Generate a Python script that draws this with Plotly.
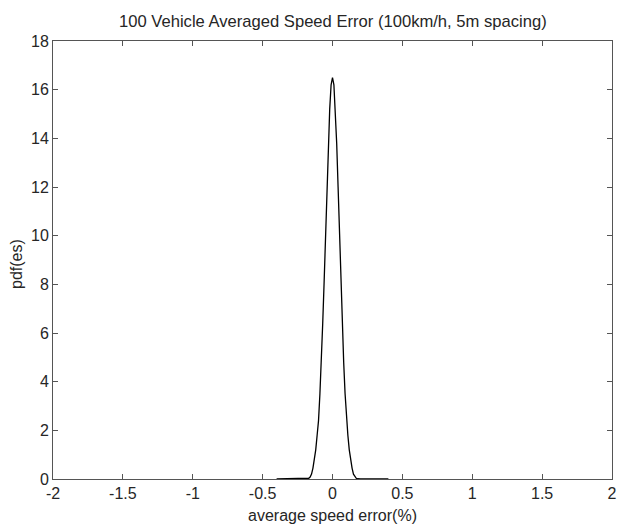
import plotly.graph_objects as go

# Data (pdf of average speed error, %)
err_x = [-0.40, -0.30, -0.20, -0.18, -0.17, -0.16, -0.15, -0.14, -0.13, -0.12, -0.11,
         -0.10, -0.09, -0.08, -0.07, -0.06, -0.05, -0.04, -0.03, -0.02, -0.01,
         0.00, 0.01, 0.02, 0.03, 0.04, 0.05, 0.06, 0.07, 0.08, 0.09, 0.10,
         0.11, 0.12, 0.13, 0.14, 0.15, 0.16, 0.17, 0.18, 0.20, 0.30, 0.40]
pdf_y = [0.0, 0.0, 0.0, 0.01, 0.03, 0.08, 0.20, 0.45, 0.75, 1.20, 1.80,
         2.40, 3.50, 4.80, 6.40, 8.10, 10.1, 12.0, 13.8, 15.2, 16.2,
         16.5, 16.2, 15.2, 13.8, 12.0, 10.1, 8.10, 6.40, 4.80, 3.50, 2.40,
         1.80, 1.20, 0.75, 0.45, 0.20, 0.08, 0.03, 0.01, 0.0, 0.0, 0.0]

x_ticks = [-2, -1.5, -1, -0.5, 0, 0.5, 1, 1.5, 2]
x_tick_text = ["-2", "-1.5", "-1", "-0.5", "0", "0.5", "1", "1.5", "2"]
y_ticks = [0, 2, 4, 6, 8, 10, 12, 14, 16, 18]

title_text = "100 Vehicle Averaged Speed Error (100km/h, 5m spacing)"
x_title = "average speed error(%)"
y_title = "pdf(es)"

FONT = "Liberation Sans, Arial, sans-serif"
TXT = "#262626"
AX = "#555555"
W, H = 617, 525
# plot box on screen: x 53..612, y 41..479
L, R, T, B = 53, W - 612, 41, H - 479
PW, PH = W - L - R, H - T - B

fig = go.Figure()
fig.add_trace(go.Scatter(x=err_x, y=pdf_y, mode="lines",
                         line=dict(color="black", width=1.3), showlegend=False))

fig.update_layout(
    width=W, height=H,
    margin=dict(l=L, r=R, t=T, b=B, autoexpand=False),
    paper_bgcolor="white", plot_bgcolor="white",
    font=dict(family=FONT, size=16, color=TXT),
)

fig.add_annotation(text=title_text, xref="paper", yref="paper",
                   x=0.5, y=1 + (41 - 21) / PH, xanchor="center", yanchor="middle",
                   showarrow=False, font=dict(family=FONT, size=16.6, color=TXT))
fig.add_annotation(text=x_title, xref="paper", yref="paper",
                   x=0.5, y=-(515 - 479) / PH, xanchor="center", yanchor="middle",
                   showarrow=False, font=dict(family=FONT, size=16, color=TXT))
fig.add_annotation(text=y_title, xref="paper", yref="paper", textangle=-90,
                   x=-(53 - 16) / PW, y=0.5 - (264 - 260) / PH, xanchor="center", yanchor="middle",
                   showarrow=False, font=dict(family=FONT, size=16, color=TXT))

fig.update_xaxes(
    range=[-2, 2], tickmode="array", tickvals=x_ticks, ticktext=x_tick_text,
    ticks="inside", ticklen=5, tickcolor=AX, tickwidth=1,
    showline=True, linecolor=AX, linewidth=1, mirror="ticks",
    showgrid=False, zeroline=False, automargin=False,
    tickfont=dict(family=FONT, size=16, color=TXT),
)
fig.update_yaxes(
    range=[0, 18], tickmode="array", tickvals=y_ticks,
    ticks="inside", ticklen=5, tickcolor=AX, tickwidth=1,
    showline=True, linecolor=AX, linewidth=1, mirror="ticks",
    showgrid=False, zeroline=False, automargin=False,
    tickfont=dict(family=FONT, size=16, color=TXT),
)

fig.write_html("out.html", config={"displayModeBar": False},
               post_script="document.body.style.margin='0';document.body.style.overflow='hidden';")
